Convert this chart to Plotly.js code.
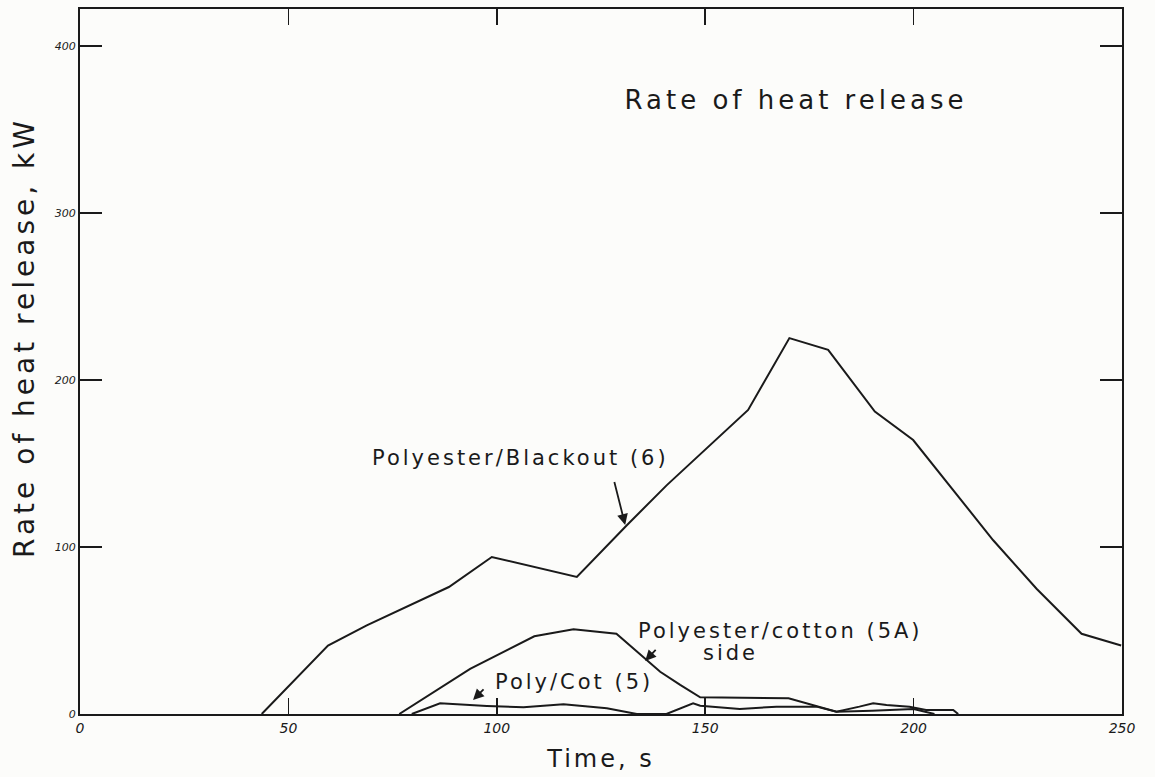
<!DOCTYPE html>
<html><head><meta charset="utf-8">
<script src="https://cdn.plot.ly/plotly-3.0.1.min.js"></script>
<style>
html,body{margin:0;padding:0;background:#fcfcfa;}
#chart{width:1155px;height:777px;}
.ytitle{letter-spacing:4px;}
.g-ytitle{transform:translate(-4px,-24px);}
.xtitle{letter-spacing:3px;}
.gtitle{letter-spacing:4px;}
.annotation-text{letter-spacing:3px;}
</style></head><body><div id="chart"></div>
<script>
// Polyester/Blackout (6)
const blackoutTime = [43.6, 59.5, 68.8, 88.5, 98.8, 119.2, 131.2, 140.8, 160.3, 170.2, 179.5, 190.7, 199.9, 219.1, 229.5, 240.3, 249.8];
const blackoutHRR  = [0, 41, 53, 76, 94, 82, 113, 137, 182, 225, 218, 181, 164, 104, 75, 48, 41];
// Polyester/cotton (5A) side
const cotton5ATime = [76.6, 93.6, 109, 118.4, 128.7, 139.2, 144, 148.8, 170, 176.7, 181.5, 187, 190.3, 193.5, 199, 203, 209.5, 210.7];
const cotton5AHRR  = [0, 27, 46.5, 50.7, 48, 25.3, 17.4, 10, 9.4, 5, 1.4, 4.4, 6.4, 5.4, 4.4, 2.4, 2.4, 0];
// Poly/Cot (5)
const polyCot5Time = [79.6, 86.4, 97.6, 106.4, 116, 126.4, 133.6, 140.7, 147.1, 148.8, 158.3, 167.1, 176.7, 181.5, 190, 200, 205];
const polyCot5HRR  = [0, 6.4, 4.8, 4, 5.8, 3.4, 0, 0, 6.4, 5, 3, 4.4, 4.4, 1.4, 2, 3, 0];

const xTickVals = [0, 50, 100, 150, 200, 250];
const xTickText = ['0', '50', '100', '150', '200', '250'];
const yTickVals = [0, 100, 200, 300, 400];
const yTickText = ['0', '100', '200', '300', '400'];

const ink = '#1a1a1a';
const fontFam = 'DejaVu Sans, sans-serif';

function series(x, y, name) {
  return {x: x, y: y, name: name, type: 'scatter', mode: 'lines',
          line: {color: ink, width: 2}, showlegend: false, hoverinfo: 'skip'};
}

const data = [
  series(blackoutTime, blackoutHRR, 'Polyester/Blackout (6)'),
  series(cotton5ATime, cotton5AHRR, 'Polyester/cotton (5A) side'),
  series(polyCot5Time, polyCot5HRR, 'Poly/Cot (5)')
];

function arrow(tipX, tipY, tailX, tailY) {
  return {x: tipX, y: tipY, ax: tailX, ay: tailY, axref: 'x', ayref: 'y', xref: 'x', yref: 'y',
          text: ' ', showarrow: true, arrowhead: 2, arrowsize: 1.2, arrowwidth: 1.8, arrowcolor: ink,
          standoff: 0, startstandoff: 0};
}
function label(x, y, text) {
  return {x: x, y: y, xref: 'x', yref: 'y', text: text, showarrow: false,
          font: {family: fontFam, size: 21, color: ink}, xanchor: 'center', yanchor: 'middle'};
}

const layout = {
  width: 1155, height: 777,
  paper_bgcolor: '#fcfcfa', plot_bgcolor: '#fcfcfa',
  margin: {l: 80, r: 33, t: 9, b: 63, autoexpand: false},
  title: {text: 'Rate of heat release', x: 796/1155, xanchor: 'center', y: 1 - 100/777, yanchor: 'middle',
          font: {family: fontFam, size: 26, color: ink}},
  xaxis: {range: [0, 250], tickvals: xTickVals, ticktext: xTickText,
          showline: true, linewidth: 2, linecolor: ink, mirror: 'ticks',
          ticks: 'inside', ticklen: 16, tickwidth: 1.5, tickcolor: ink,
          showgrid: false, zeroline: false,
          tickfont: {family: fontFam, size: 14, color: ink, style: 'italic'},
          title: {text: 'Time, s', font: {family: fontFam, size: 24, color: ink}, standoff: 15}},
  yaxis: {range: [0, 422], tickvals: yTickVals, ticktext: yTickText,
          showline: true, linewidth: 2, linecolor: ink, mirror: 'ticks',
          ticks: 'inside', ticklen: 22, tickwidth: 1.5, tickcolor: ink,
          showgrid: false, zeroline: false,
          tickfont: {family: fontFam, size: 11, color: ink, style: 'italic'},
          title: {text: 'Rate of heat release, kW', font: {family: fontFam, size: 28, color: ink}, standoff: 8}},
  annotations: [
    label(105.8, 153.3, 'Polyester/Blackout (6)'),
    arrow(130.8, 113.2, 127.6, 144.9),
    label(168, 49.7, 'Polyester/cotton (5A)'),
    label(156, 36.5, 'side'),
    arrow(135.6, 31.7, 139.2, 41.3),
    label(118.5, 19.3, 'Poly/Cot (5)'),
    arrow(94.3, 8.4, 97.9, 17.4)
  ]
};

Plotly.newPlot('chart', data, layout, {displayModeBar: false, staticPlot: true});
</script></body></html>
